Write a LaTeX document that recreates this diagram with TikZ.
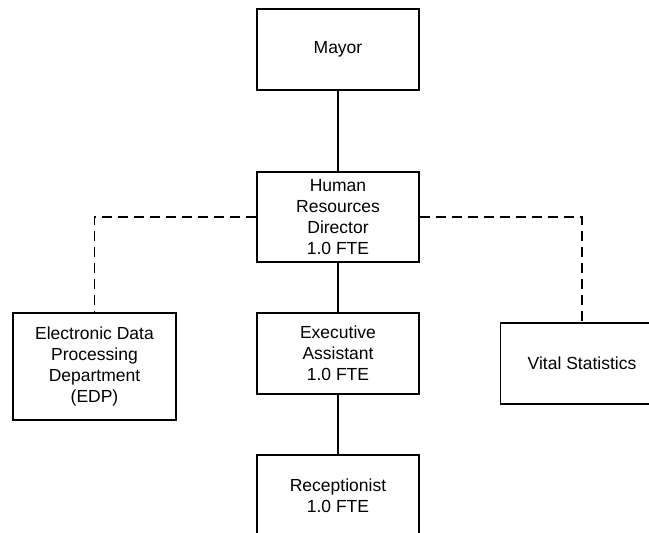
\documentclass[tikz,border=0pt]{standalone}
\usepackage{fontspec}
\setmainfont{Liberation Sans}
\begin{document}
\begin{tikzpicture}[x=1pt,y=-1pt,
  orgbox/.style={draw=black, line width=1.1pt, fill=white, rectangle,
    align=center, inner sep=0pt, minimum width=162pt, minimum height=81pt,
    font=\fontsize{17.5}{21}\selectfont},
  solidlink/.style={draw=black, line width=1.1pt},
  staff/.style={draw=black, line width=1.1pt, dash pattern=on 10pt off 6pt}]
  \clip (0,0) rectangle (649,533);
  \fill[white] (0,0) rectangle (649,533);

  % chain of command
  \node[orgbox] (mayor) at (338,49.5) {Mayor};
  \node[orgbox, minimum height=90pt] (hr) at (338,217) {Human\\Resources\\Director\\1.0 FTE};
  \node[orgbox] (exec) at (338,353.5) {Executive\\Assistant\\1.0 FTE};
  \node[orgbox] (recep) at (338,495.5) {Receptionist\\1.0 FTE};

  % units under the director's oversight
  \node[orgbox, minimum width=163pt, minimum height=107pt] (edp) at (94.5,366.5)
    {Electronic Data\\Processing\\Department\\(EDP)};
  \node[orgbox, minimum width=163pt] (vs) at (582,363.5) {Vital Statistics};

  \draw[solidlink] (mayor.south) -- (hr.north);
  \draw[solidlink] (hr.south) -- (exec.north);
  \draw[solidlink] (exec.south) -- (recep.north);
  \draw[staff] (hr.west) -| (edp.north);
  \draw[staff] (hr.east) -| (vs.north);
\end{tikzpicture}
\end{document}
